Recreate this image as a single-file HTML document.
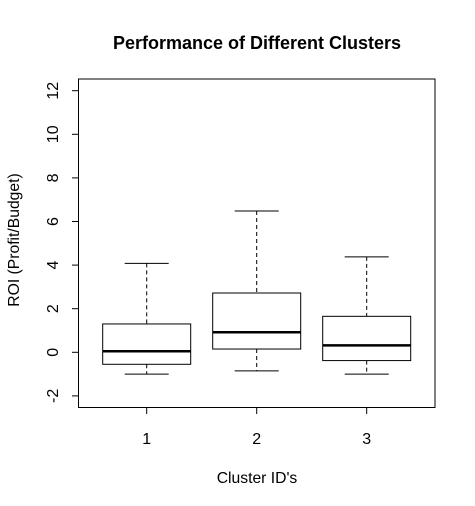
<!DOCTYPE html>
<html><head><meta charset="utf-8"><style>
html,body{margin:0;padding:0;background:#fff;}
svg{display:block;font-family:"Liberation Sans",Arial,sans-serif;}
</style></head><body>
<svg id="chart" width="475" height="506">
<text x="257" y="49" text-anchor="middle" font-size="18" font-weight="bold">Performance of Different Clusters</text>
<rect x="78.5" y="79" width="356.5" height="328.5" fill="none" stroke="#000" stroke-width="1"/>
<text x="257" y="483" text-anchor="middle" font-size="15.7">Cluster ID's</text>
<text transform="translate(19,240) rotate(-90)" text-anchor="middle" font-size="15.7">ROI (Profit/Budget)</text>
<g id="yaxis"></g>
<g id="xaxis"></g>
<g id="boxes"></g>
</svg>
<script>
const categories = ["1","2","3"];
const whiskerHigh = [4.08, 6.48, 4.38];
const q3 = [1.30, 2.72, 1.65];
const medians = [0.05, 0.92, 0.32];
const q1 = [-0.55, 0.15, -0.38];
const whiskerLow = [-1.0, -0.85, -1.0];
const yTicks = [-2, 0, 2, 4, 6, 8, 10, 12];

const NS = "http://www.w3.org/2000/svg";
function y(v){ return 352.3 - v * 21.8; }
function x(i){ return 146.7 + i * 110; }
function mk(tag, attrs, parent){
  const e = document.createElementNS(NS, tag);
  for (const k in attrs) e.setAttribute(k, attrs[k]);
  parent.appendChild(e);
  return e;
}
const ya = document.getElementById("yaxis");
const xa = document.getElementById("xaxis");
const bx = document.getElementById("boxes");
mk("line", {x1:78.5, x2:78.5, y1:y(yTicks[yTicks.length-1]), y2:y(yTicks[0]), stroke:"#000"}, ya);
yTicks.forEach(t => {
  const l = mk("line", {x1:72, x2:78.5, y1:y(t), y2:y(t), stroke:"#000"}, ya);
  
  
  const tx = mk("text", {transform:`translate(58,${y(t)}) rotate(-90)`, "text-anchor":"middle", "font-size":"16"}, ya);
  tx.textContent = t;
  
  
});
mk("line", {x1:x(0), x2:x(categories.length-1), y1:407.5, y2:407.5, stroke:"#000"}, xa);
categories.forEach((c, i) => {
  const l = mk("line", {x1:x(i), x2:x(i), y1:407.5, y2:414, stroke:"#000"}, xa);
  
  
  const tx = mk("text", {x:x(i), y:444, "text-anchor":"middle", "font-size":"16"}, xa);
  tx.textContent = c;
  
  

  const g = mk("g", {}, bx);
  
  
  const cx = x(i);
  mk("line", {x1:cx, x2:cx, y1:y(whiskerHigh[i]), y2:y(q3[i]), stroke:"#000", "stroke-dasharray":"4,3"}, g);
  mk("line", {x1:cx, x2:cx, y1:y(q1[i]), y2:y(whiskerLow[i]), stroke:"#000", "stroke-dasharray":"4,3"}, g);
  mk("line", {x1:cx-22, x2:cx+22, y1:y(whiskerHigh[i]), y2:y(whiskerHigh[i]), stroke:"#000"}, g);
  mk("line", {x1:cx-22, x2:cx+22, y1:y(whiskerLow[i]), y2:y(whiskerLow[i]), stroke:"#000"}, g);
  mk("rect", {x:cx-44, y:y(q3[i]), width:88, height:y(q1[i])-y(q3[i]), fill:"none", stroke:"#000"}, g);
  mk("line", {x1:cx-44, x2:cx+44, y1:y(medians[i]), y2:y(medians[i]), stroke:"#000", "stroke-width":"2.5"}, g);
});
</script>
</body></html>
